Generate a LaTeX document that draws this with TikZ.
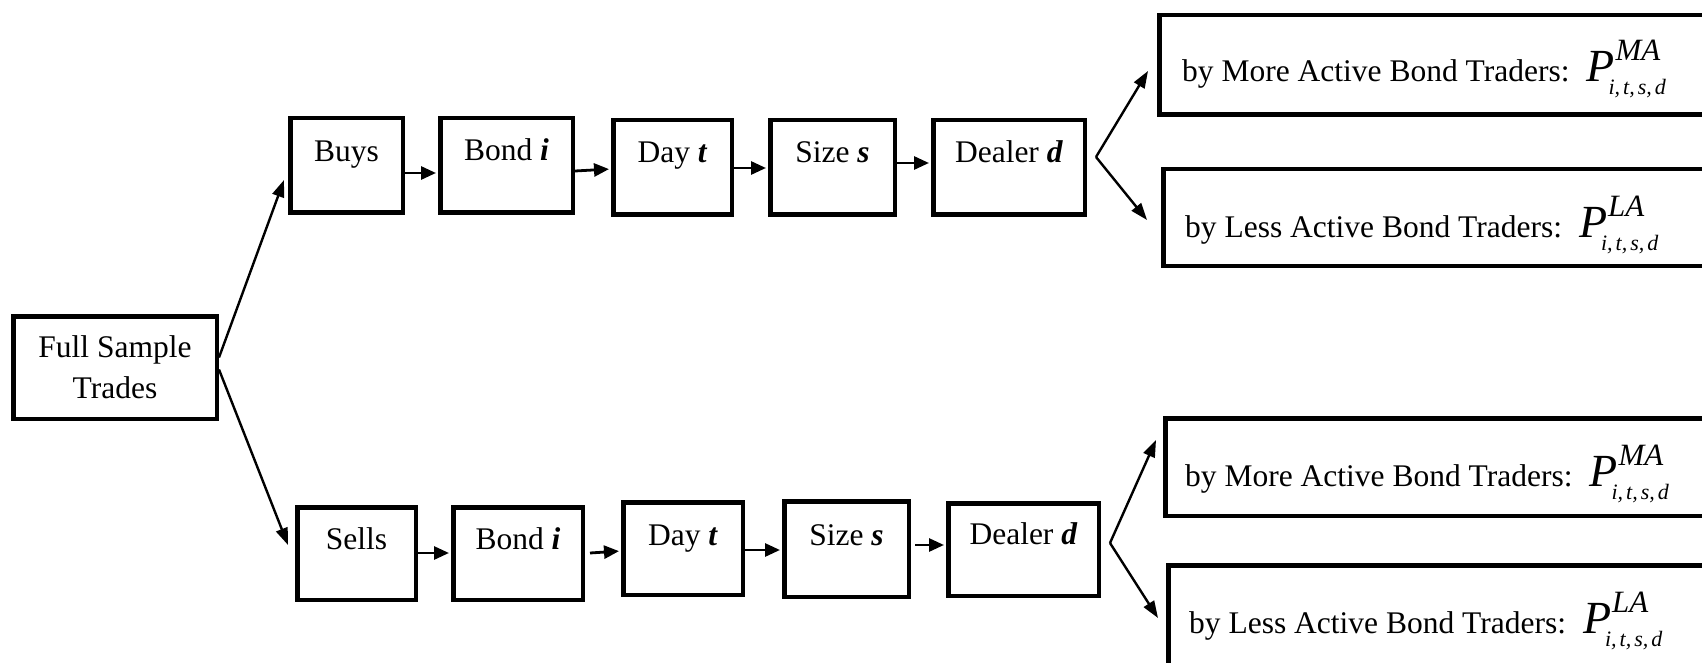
\documentclass[tikz,border=0pt]{standalone}
\usepackage{fontspec}
\setmainfont{Liberation Serif}
\usetikzlibrary{arrows.meta}
\newcommand{\lblfont}{\fontsize{31.5}{41}\selectfont}
\newcommand{\bi}[1]{\textbf{\textit{#1}}}
\newcommand{\Pform}[1]{{\fontsize{46}{46}\selectfont\itshape P}\kern1pt\rlap{\raisebox{21pt}{\fontsize{31}{31}\selectfont\itshape #1}}\kern-7pt\raisebox{-13pt}{\fontsize{22}{22}\selectfont\itshape i,\kern3pt t,\kern3pt s,\kern3pt d}}
\begin{document}
\begin{tikzpicture}[x=1pt,y=-1pt,
  cbox/.style n args={4}{draw, line width=4.5pt, inner sep=0pt, minimum width=#1pt, minimum height=#2pt, text height=#3pt, text depth=#4pt, font=\lblfont},
  rbox/.style n args={2}{draw, line width=4.5pt, inner sep=0pt, minimum width=#1pt, minimum height=#2pt},
  rtext/.style={anchor=base west, inner sep=0pt, font=\lblfont},
  arr/.style={-{Triangle[length=15pt,width=13pt]}, line width=2.8pt, shorten >=2pt},
  darr/.style={-{Triangle[length=17pt,width=12pt]}, line width=2.4pt}]
\useasboundingbox (0,0) rectangle (1702,663);
\fill[white] (0,0) rectangle (1702,663);
\clip (0,0) rectangle (1702,663);

% full sample
\node[draw, line width=4.5pt, inner sep=0pt, minimum width=203.5pt, minimum height=102.5pt, align=center, font=\lblfont] (full) at (115,367.5) {Full Sample\\Trades};

% top chain
\node[cbox={112.5}{94.5}{43.75}{50.75}] (buysT) at (346.5,165.5) {Buys};
\node[cbox={132.5}{94.5}{42.75}{51.75}] (bondT) at (506.5,165.5) {Bond \bi{i}};
\node[cbox={118.5}{94.5}{42.75}{51.75}] (dayT) at (672.5,167.5) {Day \bi{t}};
\node[cbox={124.5}{94.5}{42.75}{51.75}] (sizeT) at (832.5,167.5) {Size \bi{s}};
\node[cbox={151.5}{94.5}{42.75}{51.75}] (dealerT) at (1009,167.5) {Dealer \bi{d}};

% bottom chain
\node[cbox={118.5}{92.5}{41.75}{50.75}] (sellsB) at (356.5,553.5) {Sells};
\node[cbox={129.5}{92.5}{41.75}{50.75}] (bondB) at (518,553.5) {Bond \bi{i}};
\node[cbox={119.5}{92.5}{42.75}{49.75}] (dayB) at (683,548.5) {Day \bi{t}};
\node[cbox={124.5}{95.5}{43.75}{51.75}] (sizeB) at (846.5,549) {Size \bi{s}};
\node[cbox={150.5}{92.5}{40.75}{51.75}] (dealerB) at (1023.5,549.5) {Dealer \bi{d}};

% right boxes
\node[rbox={558.5}{99.5}] (maT) at (1438.5,65) {};
\node[rbox={554.5}{96.5}] (laT) at (1440.5,217.5) {};
\node[rbox={552.5}{97.5}] (maB) at (1441.5,467) {};
\node[rbox={549.5}{100.5}] (laB) at (1443,615.5) {};
\node[rtext] (maTt) at (1182,82) {by More Active Bond Traders:\hspace{17pt}\Pform{MA}};
\node[rtext] (laTt) at (1185,237) {by Less Active Bond Traders:\hspace{17pt}\Pform{LA}};
\node[rtext] (maBt) at (1185,486) {by More Active Bond Traders:\hspace{17pt}\Pform{MA}};
\node[rtext] (laBt) at (1189,633) {by Less Active Bond Traders:\hspace{17pt}\Pform{LA}};

% fork points
\coordinate (forkT) at ([xshift=9pt,yshift=10.5pt]dealerT.east);
\coordinate (forkB) at ([xshift=9pt,yshift=6.5pt]dealerB.east);

% connectors
\draw[darr] ([yshift=10pt]full.east) -- ([xshift=-4pt,yshift=-14.5pt]buysT.west);
\draw[darr] ([yshift=-2pt]full.east) -- ([xshift=-7pt,yshift=8.5pt]sellsB.west);

\draw[arr] ([yshift=-7.5pt]buysT.east) -- ([yshift=-7.5pt]bondT.west);
\draw[arr] ([yshift=-5.5pt]bondT.east) -- ([yshift=-1.5pt]dayT.west);
\draw[arr] ([yshift=-0.5pt]dayT.east) -- ([yshift=-0.5pt]sizeT.west);
\draw[arr] ([yshift=4.5pt]sizeT.east) -- ([yshift=4.5pt]dealerT.west);

\draw[arr] ([yshift=0.5pt]sellsB.east) -- ([yshift=0.5pt]bondB.west);
\draw[arr] ([xshift=5pt,yshift=0.5pt]bondB.east) -- ([yshift=-2.5pt]dayB.west);
\draw[arr] ([yshift=-1.5pt]dayB.east) -- ([yshift=-1pt]sizeB.west);
\draw[arr] ([xshift=4pt,yshift=4pt]sizeB.east) -- ([yshift=4.5pt]dealerB.west);

\draw[darr] (forkT) -- ([xshift=-9pt,yshift=-6pt]maT.west);
\draw[darr] (forkT) -- ([xshift=-14pt,yshift=-2.5pt]laT.west);
\draw[darr] (forkB) -- ([xshift=-7pt,yshift=27pt]maB.west);
\draw[darr] (forkB) -- ([xshift=-8pt,yshift=-2.5pt]laB.west);
\end{tikzpicture}
\end{document}
